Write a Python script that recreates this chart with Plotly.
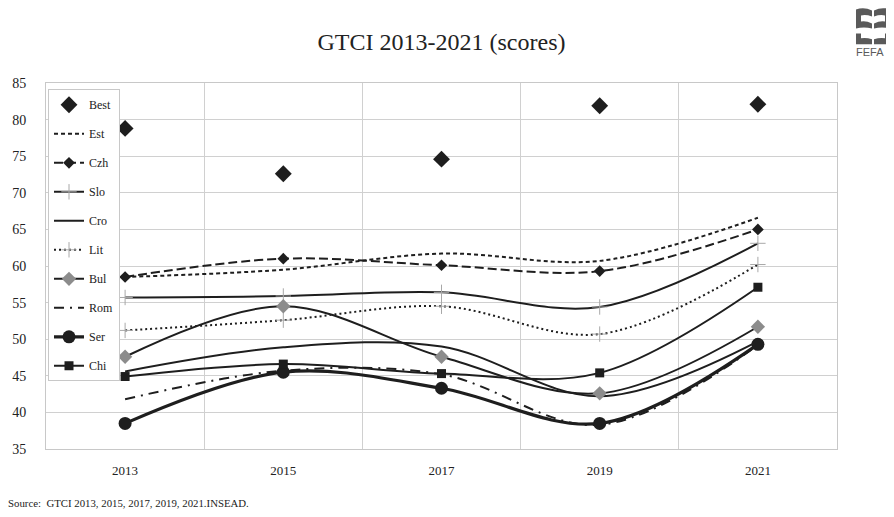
import re
import plotly.graph_objects as go

years = ["2013", "2015", "2017", "2019", "2021"]
best = [78.8, 72.6, 74.6, 81.9, 82.1]
est = [58.5, 59.5, 61.7, 60.7, 66.6]
czh = [58.5, 61.0, 60.1, 59.3, 65.0]
slo = [55.7, 55.9, 56.4, 54.4, 63.1]
cro = [45.6, 48.9, 49.0, 42.2, 49.7]
lit = [51.2, 52.6, 54.5, 50.7, 60.2]
bul = [47.6, 54.5, 47.6, 42.6, 51.7]
rom = [41.8, 45.7, 45.2, 38.3, 49.2]
ser = [38.5, 45.5, 43.3, 38.5, 49.3]
chi = [44.9, 46.6, 45.3, 45.4, 57.1]

xi = list(range(len(years)))
DK = "#1e1e1e"
GR = "#8c8c8c"
SERIF = "Liberation Serif"

fig = go.Figure()

def add(name, vals, dash=None, width=2, symbol=None, msize=8, mcolor=DK, mode="lines", lcolor=DK):
    kw = dict(x=xi, y=vals, name=name, legendgroup=name)
    if mode == "markers":
        fig.add_trace(go.Scatter(mode="markers", marker=dict(symbol=symbol, size=msize, color=mcolor), **kw))
        return
    m = "lines+markers" if symbol else "lines"
    tr = go.Scatter(mode=m, line=dict(color=lcolor, width=width, dash=dash, shape="spline", smoothing=1.0), **kw)
    if symbol:
        mk = dict(symbol=symbol, size=msize, color=mcolor)
        if symbol.endswith("thin"):
            mk["line"] = dict(color=mcolor, width=1)
        tr.marker = mk
    fig.add_trace(tr)

add("Best", best, mode="markers", symbol="diamond", msize=13)
add("Est", est, dash="4px,3px", width=2)
add("Czh", czh, dash="9px,4px", width=2, symbol="diamond", msize=9)
add("Slo", slo, width=2, symbol="cross-thin", msize=11, mcolor="#a8a8a8")
add("Cro", cro, width=2)
add("Lit", lit, dash="2px,3px", width=2, symbol="cross-thin", msize=11, mcolor="#a8a8a8")
add("Bul", bul, width=2, symbol="diamond", msize=11, mcolor=GR)
add("Rom", rom, dash="10px,6px,2px,6px", width=2)
add("Ser", ser, width=3.2, symbol="circle", msize=13)
add("Chi", chi, width=2, symbol="square", msize=9)

O = 8  # page offset of the figure inside the browser window
W, H = 886, 509
L, R, T, B = 46 - O, 837 - O, 82.7 - O, 449.3 - O

def px(x):
    return (x - O - L) / (R - L)

def py(y):
    return (B - (y - O)) / (B - T)

def to_paper(p):
    toks = re.findall(r"[MCQLZ]|-?\d+\.?\d*", p)
    out, nums = [], []
    for t in toks:
        if t in "MCQLZ":
            out.append(t)
        else:
            nums.append(float(t))
            if len(nums) == 2:
                out.append(f"{px(nums[0]):.5f},{py(nums[1]):.5f}")
                nums = []
    return " ".join(out)

logo_left = [
    "M856,9 Q864,6 872,10 L872,16 Q866,14 861,15 L861,21 Q866,20 872,23 L872,28 Q864,26 856,28 Z",
    "M856,33 L861,33 L861,38 Q866,37 872,39 L872,44 L856,44 Z",
]
def mirror(p):
    toks = re.findall(r"[MCQLZ]|-?\d+\.?\d*", p)
    out, nums = [], []
    for t in toks:
        if t in "MCQLZ":
            out.append(t)
        else:
            nums.append(float(t))
            if len(nums) == 2:
                out.append(f"{1746 - nums[0]:.1f},{nums[1]:.1f}")
                nums = []
    return " ".join(out)

shapes = []
for p in logo_left + [mirror(q) for q in logo_left]:
    shapes.append(dict(type="path", xref="paper", yref="paper", path=to_paper(p),
                       fillcolor="#5a5a5a", line=dict(width=0)))

fig.update_layout(
    width=W, height=H,
    margin=dict(l=L, r=W - R, t=T, b=H - B, pad=0, autoexpand=False),
    paper_bgcolor="white", plot_bgcolor="white",
    font=dict(family=SERIF, size=13, color="#222"),
    title=dict(text="GTCI 2013-2021 (scores)", x=0.5, xref="paper", y=1 - (42 - O) / H, yanchor="middle",
               font=dict(family=SERIF, size=24, color="#222")),
    showlegend=True,
    legend=dict(x=px(48), y=py(89), xanchor="left", yanchor="top", bgcolor="white",
                bordercolor="#c8c8c8", borderwidth=1, font=dict(family=SERIF, size=12, color="#222"),
                tracegroupgap=10, itemwidth=30),
    xaxis=dict(range=[-0.5, 4.5], tickmode="array", tickvals=xi, ticktext=years, showgrid=False,
               zeroline=False, showline=True, linecolor="#c8c8c8", mirror=True, ticks="",
               ticklabelstandoff=9, automargin=False,
               tickfont=dict(family=SERIF, size=13, color="#222"),
               minor=dict(tickvals=[-0.5, 0.5, 1.5, 2.5, 3.5, 4.5], showgrid=True, gridcolor="#d0d0d0", gridwidth=1)),
    yaxis=dict(range=[35, 85], tickmode="linear", tick0=35, dtick=5, showgrid=True, gridcolor="#d0d0d0",
               zeroline=False, showline=True, linecolor="#c8c8c8", mirror=True, ticks="",
               ticklabelstandoff=16, automargin=False,
               tickfont=dict(family=SERIF, size=14, color="#222")),
    shapes=shapes,
    annotations=[
        dict(text="Source:  GTCI 2013, 2015, 2017, 2019, 2021.INSEAD.", xref="paper", yref="paper",
             x=px(6), y=py(503), xanchor="left", yanchor="middle", showarrow=False,
             font=dict(family=SERIF, size=10.8, color="#222")),
        dict(text="FEFA", xref="paper", yref="paper", x=px(854), y=py(52), xanchor="left", yanchor="middle",
             showarrow=False, font=dict(family="Liberation Sans", size=11, color="#5a5a5a")),
    ],
)

fig.write_html("out.html")
